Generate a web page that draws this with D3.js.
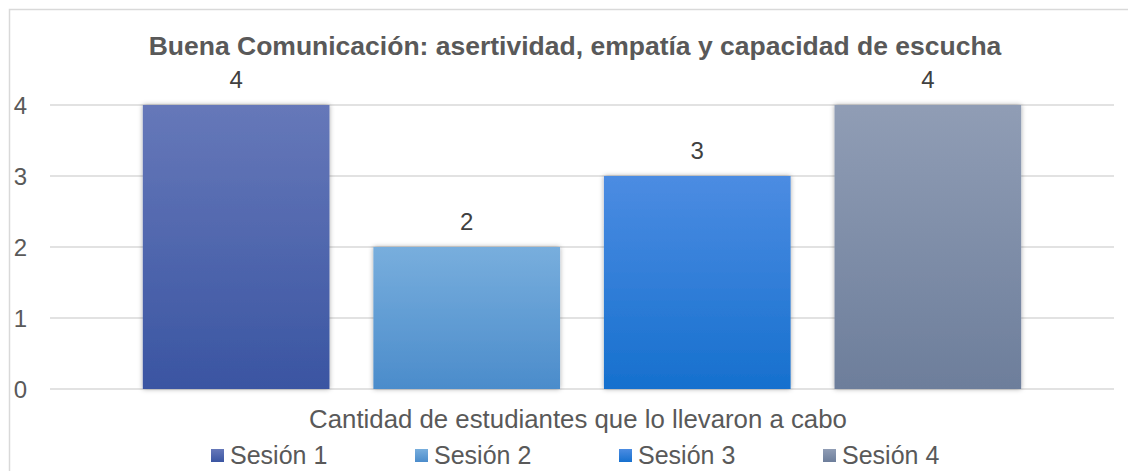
<!DOCTYPE html>
<html>
<head>
<meta charset="utf-8">
<script src="https://cdn.jsdelivr.net/npm/d3@7"></script>
<style>
  html, body { margin: 0; padding: 0; background: #fff; }
  text { font-family: "Liberation Sans", Arial, sans-serif; }
</style>
</head>
<body>
<svg id="chart" width="1128" height="471"></svg>
<script>
const title = "Buena Comunicación: asertividad, empatía y capacidad de escucha";
const categoryLabel = "Cantidad de estudiantes que lo llevaron a cabo";
const series = ["Sesión 1", "Sesión 2", "Sesión 3", "Sesión 4"];
const values = [4, 2, 3, 4];
const yTicks = [0, 1, 2, 3, 4];
const colorsTop = ["#6678b9", "#78aedd", "#4c8ce2", "#909db5"];
const colorsBottom = ["#3a55a2", "#4b8ccb", "#1670ce", "#6d7e9b"];

const svg = d3.select("#chart");
const defs = svg.append("defs");

const filter = defs.append("filter").attr("id", "shadow")
  .attr("x", "-10%").attr("y", "-10%").attr("width", "120%").attr("height", "120%");
filter.append("feDropShadow").attr("dx", 0).attr("dy", 0)
  .attr("stdDeviation", 2.5).attr("flood-color", "#000").attr("flood-opacity", 0.35);

series.forEach((s, i) => {
  const g = defs.append("linearGradient").attr("id", "grad" + i)
    .attr("x1", 0).attr("y1", 0).attr("x2", 0).attr("y2", 1);
  g.append("stop").attr("offset", "0%").attr("stop-color", colorsTop[i]);
  g.append("stop").attr("offset", "100%").attr("stop-color", colorsBottom[i]);
});

// chart border
svg.append("rect").attr("x", 9.5).attr("y", 9.5).attr("width", 1300).attr("height", 700)
  .attr("fill", "none").attr("stroke", "#d9d9d9").attr("stroke-width", 1.5);

const plot = { left: 50, right: 1114, top: 105, bottom: 389 };

const y = d3.scaleLinear().domain([0, 4]).range([plot.bottom, plot.top]);
const x = d3.scaleBand().domain(series).range([plot.left, plot.right])
  .paddingInner(0.1905).paddingOuter(0.4026);

// gridlines
svg.append("g").selectAll("line").data(yTicks).join("line")
  .attr("x1", plot.left).attr("x2", plot.right)
  .attr("y1", d => y(d)).attr("y2", d => y(d))
  .attr("stroke", "#d9d9d9").attr("stroke-width", 1.5);

// y axis labels
const yAxis = d3.axisLeft(y).tickValues(yTicks).tickSize(0).tickPadding(0).tickFormat(d3.format("d"));
const ya = svg.append("g").attr("transform", "translate(27,0)").call(yAxis);
ya.select(".domain").remove();
ya.selectAll("text").attr("font-size", "24px").attr("fill", "#595959")
  .attr("dy", "0.36em")
  .attr("font-family", "'Liberation Sans', Arial, sans-serif");

// bars
svg.append("g").selectAll("rect").data(values).join("rect")
  .attr("x", (d, i) => x(series[i]))
  .attr("width", x.bandwidth())
  .attr("y", d => y(d))
  .attr("height", d => y(0) - y(d))
  .attr("fill", (d, i) => `url(#grad${i})`)
  .attr("filter", "url(#shadow)");

// value labels
svg.append("g").selectAll("text").data(values).join("text")
  .attr("x", (d, i) => x(series[i]) + x.bandwidth() / 2)
  .attr("y", d => y(d) - 17)
  .attr("text-anchor", "middle")
  .attr("font-size", "24px").attr("fill", "#404040")
  .text(d => d);

// title
svg.append("text").attr("x", 575).attr("y", 55).attr("text-anchor", "middle")
  .attr("font-size", "26.5px").attr("font-weight", "bold").attr("fill", "#595959")
  .text(title);

// category label
svg.append("text").attr("x", 578).attr("y", 428).attr("text-anchor", "middle")
  .attr("font-size", "25.8px").attr("fill", "#595959")
  .text(categoryLabel);

// legend
const legendX = [211, 415, 619, 823];
const lg = svg.append("g").selectAll("g").data(series).join("g")
  .attr("transform", (d, i) => `translate(${legendX[i]},0)`);
lg.append("rect").attr("x", 0).attr("y", 449).attr("width", 13).attr("height", 13)
  .attr("fill", (d, i) => `url(#grad${i})`);
lg.append("text").attr("x", 19).attr("y", 464)
  .attr("font-size", "25px").attr("fill", "#595959").text(d => d);
</script>
</body>
</html>
